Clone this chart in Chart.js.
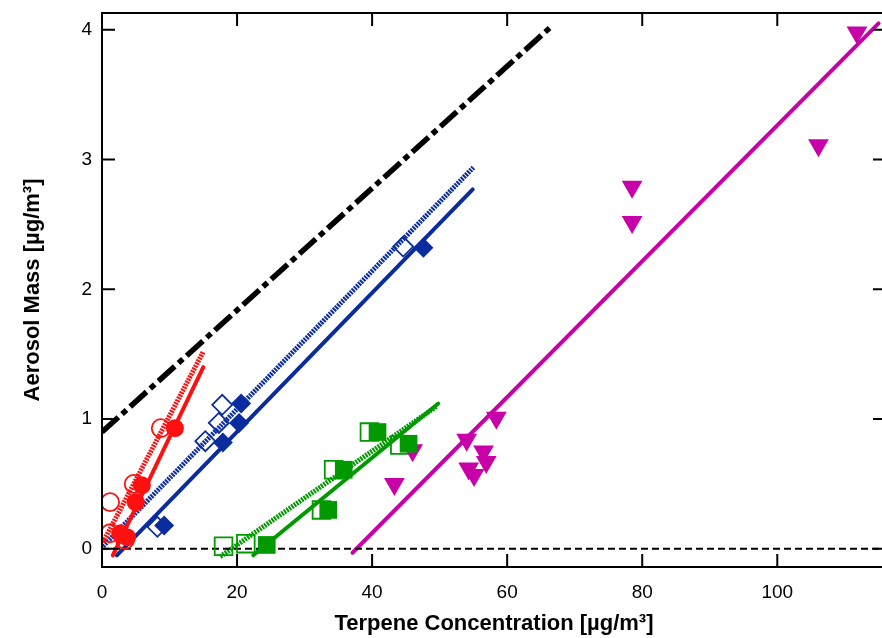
<!DOCTYPE html>
<html>
<head>
<meta charset="utf-8">
<script src="https://cdn.jsdelivr.net/npm/chart.js@4"></script>
<style>
  html, body { margin: 0; padding: 0; background: #fff; overflow: hidden; }
  #wrap { width: 882px; height: 638px; overflow: hidden; }
</style>
</head>
<body>
<div id="wrap"><canvas id="chart" width="890" height="638"></canvas></div>
<script>
// values

const xTicks = [0, 20, 40, 60, 80, 100];
const yTicks = [0, 1, 2, 3, 4];

const redOpenX = [1.2, 4.7, 8.7, 1.2, 3.4];
const redOpenY = [0.36, 0.50, 0.93, 0.12, 0.07];
const redFillX = [10.8, 5.9, 5.0, 2.7, 3.7];
const redFillY = [0.93, 0.49, 0.36, 0.12, 0.09];

const blueOpenX = [8.2, 15.3, 17.3, 17.8, 44.6];
const blueOpenY = [0.17, 0.83, 0.97, 1.11, 2.33];
const blueFillX = [9.2, 17.9, 20.3, 20.6, 47.6];
const blueFillY = [0.18, 0.82, 0.97, 1.12, 2.32];

const greenOpenX = [18.0, 21.3, 32.5, 34.3, 39.6, 44.1];
const greenOpenY = [0.02, 0.04, 0.30, 0.61, 0.90, 0.80];
const greenFillX = [24.4, 33.5, 35.8, 40.8, 45.4];
const greenFillY = [0.03, 0.30, 0.61, 0.90, 0.81];

const magentaX = [43.3, 46.0, 54.0, 56.5, 56.9, 54.3, 55.1, 58.4, 78.5, 78.5, 106.1, 111.8];
const magentaY = [0.50, 0.76, 0.84, 0.75, 0.67, 0.62, 0.57, 1.01, 2.79, 2.52, 3.11, 3.98];

// fit lines (end points)
const redHatchX = [0.15, 15.0];
const redHatchY = [0.05, 1.52];
const redSolidX = [1.6, 15.0];
const redSolidY = [-0.05, 1.40];
const blueHatchX = [0.15, 55.0];
const blueHatchY = [0.02, 2.94];
const blueSolidX = [2.2, 54.9];
const blueSolidY = [-0.05, 2.77];
const greenHatchX = [17.5, 49.6];
const greenHatchY = [-0.06, 1.10];
const greenSolidX = [22.4, 49.8];
const greenSolidY = [-0.05, 1.12];
const magentaLineX = [37.1, 115.0];
const magentaLineY = [-0.03, 4.05];
const blackLineX = [0, 66.4];
const blackLineY = [0.90, 4.02];
const zeroLineX = [0, 116];
const zeroLineY = [0, 0];

const RED = '#ff1010';
const BLUE = '#0a2c9e';
const GREEN = '#009a00';
const MAGENTA = '#c800a8';

function toPoints(xs, ys) {
    return xs.map((x, i) => ({ x: x, y: ys[i] }));
}

function lineSet(xs, ys, color, width, dash, cap) {
    return {
        type: 'line',
        data: toPoints(xs, ys),
        borderColor: color,
        borderWidth: width,
        borderDash: dash || [],
        borderCapStyle: cap || 'butt',
        pointRadius: 0,
        fill: false,
        order: 3
    };
}

function markerSet(xs, ys, color, style, radius, hollow, rotation) {
    return {
        type: 'scatter',
        data: toPoints(xs, ys),
        pointStyle: style,
        pointRadius: radius,
        pointRotation: rotation || 0,
        pointBorderWidth: hollow ? 1.8 : 0,
        pointBorderColor: color,
        pointBackgroundColor: hollow ? 'rgba(0,0,0,0)' : color,
        showLine: false,
        order: hollow ? 2 : 1
    };
}

// inward ticks and the box round the plot
const frame = {
    id: 'frame',
    afterDatasetsDraw(chart) {
        const { ctx, chartArea: a, scales } = chart;
        const len = 13;
        ctx.save();
        ctx.strokeStyle = '#000';
        ctx.lineWidth = 2;
        ctx.beginPath();
        ctx.rect(a.left, a.top, a.right - a.left, a.bottom - a.top);
        xTicks.forEach(v => {
            const px = scales.x.getPixelForValue(v);
            ctx.moveTo(px, a.bottom); ctx.lineTo(px, a.bottom - len);
            ctx.moveTo(px, a.top); ctx.lineTo(px, a.top + len);
        });
        yTicks.forEach(v => {
            const py = scales.y.getPixelForValue(v);
            ctx.moveTo(a.left, py); ctx.lineTo(a.left + len, py);
            ctx.moveTo(a.right, py); ctx.lineTo(a.right - len, py);
        });
        ctx.stroke();
        ctx.restore();
    }
};

const font = 'Liberation Sans, Arial, Helvetica, sans-serif';

new Chart(document.getElementById('chart'), {
    type: 'scatter',
    data: {
        datasets: [
            lineSet(zeroLineX, zeroLineY, '#000', 2, [7, 4]),
            lineSet(blackLineX, blackLineY, '#000', 5.5, [22, 5, 6, 5]),
            lineSet(redHatchX, redHatchY, RED, 5, [2, 1]),
            lineSet(redSolidX, redSolidY, RED, 4, [], 'round'),
            lineSet(blueHatchX, blueHatchY, BLUE, 5, [2, 1]),
            lineSet(blueSolidX, blueSolidY, BLUE, 4, [], 'round'),
            lineSet(greenHatchX, greenHatchY, GREEN, 5, [2, 1]),
            lineSet(greenSolidX, greenSolidY, GREEN, 4, [], 'round'),
            lineSet(magentaLineX, magentaLineY, MAGENTA, 4, [], 'round'),
            markerSet(redOpenX, redOpenY, RED, 'circle', 9, true),
            markerSet(redFillX, redFillY, RED, 'circle', 9, false),
            markerSet(blueOpenX, blueOpenY, BLUE, 'rectRot', 10, true),
            markerSet(blueFillX, blueFillY, BLUE, 'rectRot', 10, false),
            markerSet(greenOpenX, greenOpenY, GREEN, 'rect', 12.5, true),
            markerSet(greenFillX, greenFillY, GREEN, 'rect', 12.5, false),
            markerSet(magentaX, magentaY, MAGENTA, 'triangle', 12, false, 180)
        ]
    },
    options: {
        responsive: false,
        animation: false,
        layout: { autoPadding: false, padding: { top: 13, right: 4, left: 0, bottom: 0 } },
        plugins: {
            legend: { display: false },
            tooltip: { enabled: false }
        },
        scales: {
            x: {
                type: 'linear',
                min: 0,
                max: 116.1,
                grid: { display: false, drawTicks: false },
                border: { display: false },
                afterBuildTicks: s => { s.ticks = xTicks.map(v => ({ value: v })); },
                afterFit: s => {
                    s.height = 71;
                    s.paddingLeft = 0;
                    s.paddingRight = 0;
                },
                ticks: {
                    padding: 14,
                    color: '#000',
                    font: { family: font, size: 19 }
                },
                title: {
                    display: true,
                    text: 'Terpene Concentration [µg/m³]',
                    color: '#000',
                    padding: { top: 0, bottom: 1 },
                    font: { family: font, size: 22, weight: 'bold' }
                }
            },
            y: {
                type: 'linear',
                min: -0.14,
                max: 4.13,
                grid: { display: false, drawTicks: false },
                border: { display: false },
                afterBuildTicks: s => { s.ticks = yTicks.map(v => ({ value: v })); },
                afterFit: s => {
                    s.width = 102;
                    s.paddingTop = 0;
                    s.paddingBottom = 0;
                },
                ticks: {
                    padding: 10,
                    color: '#000',
                    font: { family: font, size: 19 }
                },
                title: {
                    display: true,
                    text: 'Aerosol Mass [µg/m³]',
                    color: '#000',
                    padding: { top: 20, bottom: 0 },
                    font: { family: font, size: 22, weight: 'bold' }
                }
            }
        }
    },
    plugins: [frame]
});
</script>
</body>
</html>
